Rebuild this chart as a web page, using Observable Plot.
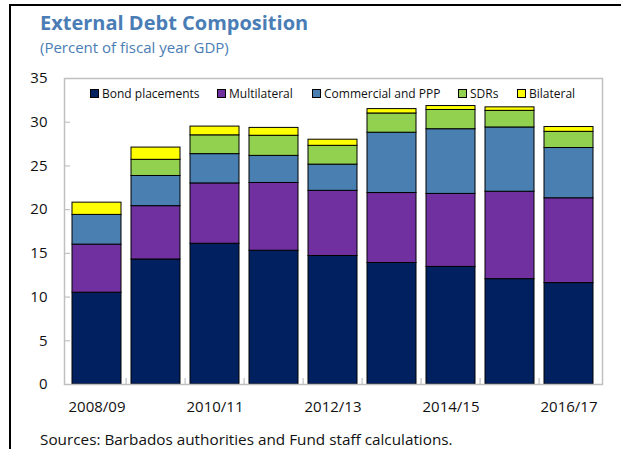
<!DOCTYPE html>
<html>
<head>
<meta charset="utf-8">
<script src="https://cdn.jsdelivr.net/npm/d3@7"></script>
<script src="https://cdn.jsdelivr.net/npm/@observablehq/plot@0.6"></script>
<style>
  html, body { margin: 0; padding: 0; background: #fff; }
  #wrap { position: relative; width: 621px; height: 449px; overflow: hidden; font-family: "Open Sans", sans-serif; color: #222; }
  #border { position: absolute; left: 9px; top: 4px; width: 640px; height: 460px; border-left: 2px solid #000; border-top: 2px solid #000; }
  #title { position: absolute; left: 40px; top: 9px; font-size: 20px; font-weight: bold; color: #4a7db5; white-space: nowrap; }
  #subtitle { position: absolute; left: 40px; top: 37px; font-size: 15px; color: #4a7db5; white-space: nowrap; }
  #chart { position: absolute; left: 0; top: 60px; }
  #legend { position: absolute; left: 0; top: 85px; width: 621px; height: 16px; }
  .item { position: absolute; top: 0; display: flex; align-items: center; font-size: 12px; white-space: nowrap; color: #111; height: 16px; }
  .sw { width: 7px; height: 7px; border: 1px solid #000; margin-right: 3px; }
  #source { position: absolute; left: 40px; top: 429px; font-size: 15.3px; color: #111; white-space: nowrap; }
</style>
</head>
<body>
<div id="wrap">
  <div id="border"></div>
  <div id="title"></div>
  <div id="subtitle"></div>
  <div id="chart"></div>
  <div id="legend"></div>
  <div id="source"></div>
</div>
<script>
// ---- data ----
const years = ["2008/09","2009/10","2010/11","2011/12","2012/13","2013/14","2014/15","2015/16","2016/17"];
const xTickLabels = ["2008/09","2010/11","2012/13","2014/15","2016/17"];
const yTicks = [0, 5, 10, 15, 20, 25, 30, 35];
const seriesNames = ["Bond placements","Multilateral","Commercial and PPP","SDRs","Bilateral"];
const bond        = [10.5, 14.3, 16.1, 15.3, 14.7, 13.9, 13.45, 12.05, 11.6];
const multilateral= [5.5, 6.1, 6.9, 7.75, 7.45, 8.0, 8.35, 10.0, 9.7];
const commercial  = [3.4, 3.45, 3.35, 3.1, 3.0, 6.9, 7.4, 7.35, 5.75];
const sdrs        = [0, 1.85, 2.15, 2.3, 2.15, 2.2, 2.2, 1.9, 1.85];
const bilateral   = [1.4, 1.4, 1.0, 0.9, 0.7, 0.5, 0.45, 0.4, 0.55];
const titleText = "External Debt Composition";
const subtitleText = "(Percent of fiscal year GDP)";
const sourceText = "Sources: Barbados authorities and Fund staff calculations.";

// ---- styles ----
const colors = ["#002060", "#7030a0", "#4a7fb1", "#92d050", "#ffff00"];

const seriesValues = [bond, multilateral, commercial, sdrs, bilateral];
const data = [];
years.forEach((y, i) => {
  seriesNames.forEach((s, j) => {
    if (seriesValues[j][i] > 0) data.push({year: y, series: s, value: seriesValues[j][i]});
  });
});

const W = 621, H = 364;
const mL = 64, mR = 19, mT = 18, mB = 40;
const step = (W - mL - mR) / years.length;

const chart = Plot.plot({
  width: W,
  height: H,
  marginLeft: mL,
  marginRight: mR,
  marginTop: mT,
  marginBottom: mB,
  style: {fontFamily: "Open Sans, sans-serif", fontSize: "15px", color: "#111", background: "transparent"},
  x: {domain: years, paddingInner: 0.165, paddingOuter: 0.0825, axis: null},
  y: {domain: [0, 35], axis: null},
  color: {domain: seriesNames, range: colors},
  marks: [
    Plot.barY(data, {x: "year", y: "value", fill: "series", stroke: "#000", strokeWidth: 1, order: seriesNames}),
    Plot.frame({stroke: "#c0c0c0", strokeWidth: 1.5}),
    Plot.axisY({ticks: yTicks, tickSize: 0, tickPadding: 17, fontSize: 15, label: null}),
    Plot.axisY({ticks: yTicks.slice(1, -1), tickSize: 6, dx: 6, stroke: "#c0c0c0", strokeWidth: 1.2, tickFormat: () => "", label: null}),
    Plot.axisX({ticks: xTickLabels, tickSize: 0, tickPadding: 17, fontSize: 15, label: null}),
    Plot.axisX({ticks: years.slice(1), tickSize: 6, dx: -step / 2, dy: -6, stroke: "#c0c0c0", strokeWidth: 1.2, tickFormat: () => "", label: null})
  ]
});
document.getElementById("chart").appendChild(chart);

document.getElementById("title").textContent = titleText;
document.getElementById("subtitle").textContent = subtitleText;
document.getElementById("source").textContent = sourceText;

const legendX = [90, 217, 312, 458, 517];
const legend = document.getElementById("legend");
seriesNames.forEach((s, j) => {
  const it = document.createElement("div");
  it.className = "item";
  it.style.left = legendX[j] + "px";
  const sw = document.createElement("span");
  sw.className = "sw";
  sw.style.background = colors[j];
  const t = document.createElement("span");
  t.textContent = s;
  it.appendChild(sw);
  it.appendChild(t);
  legend.appendChild(it);
});
</script>
</body>
</html>
